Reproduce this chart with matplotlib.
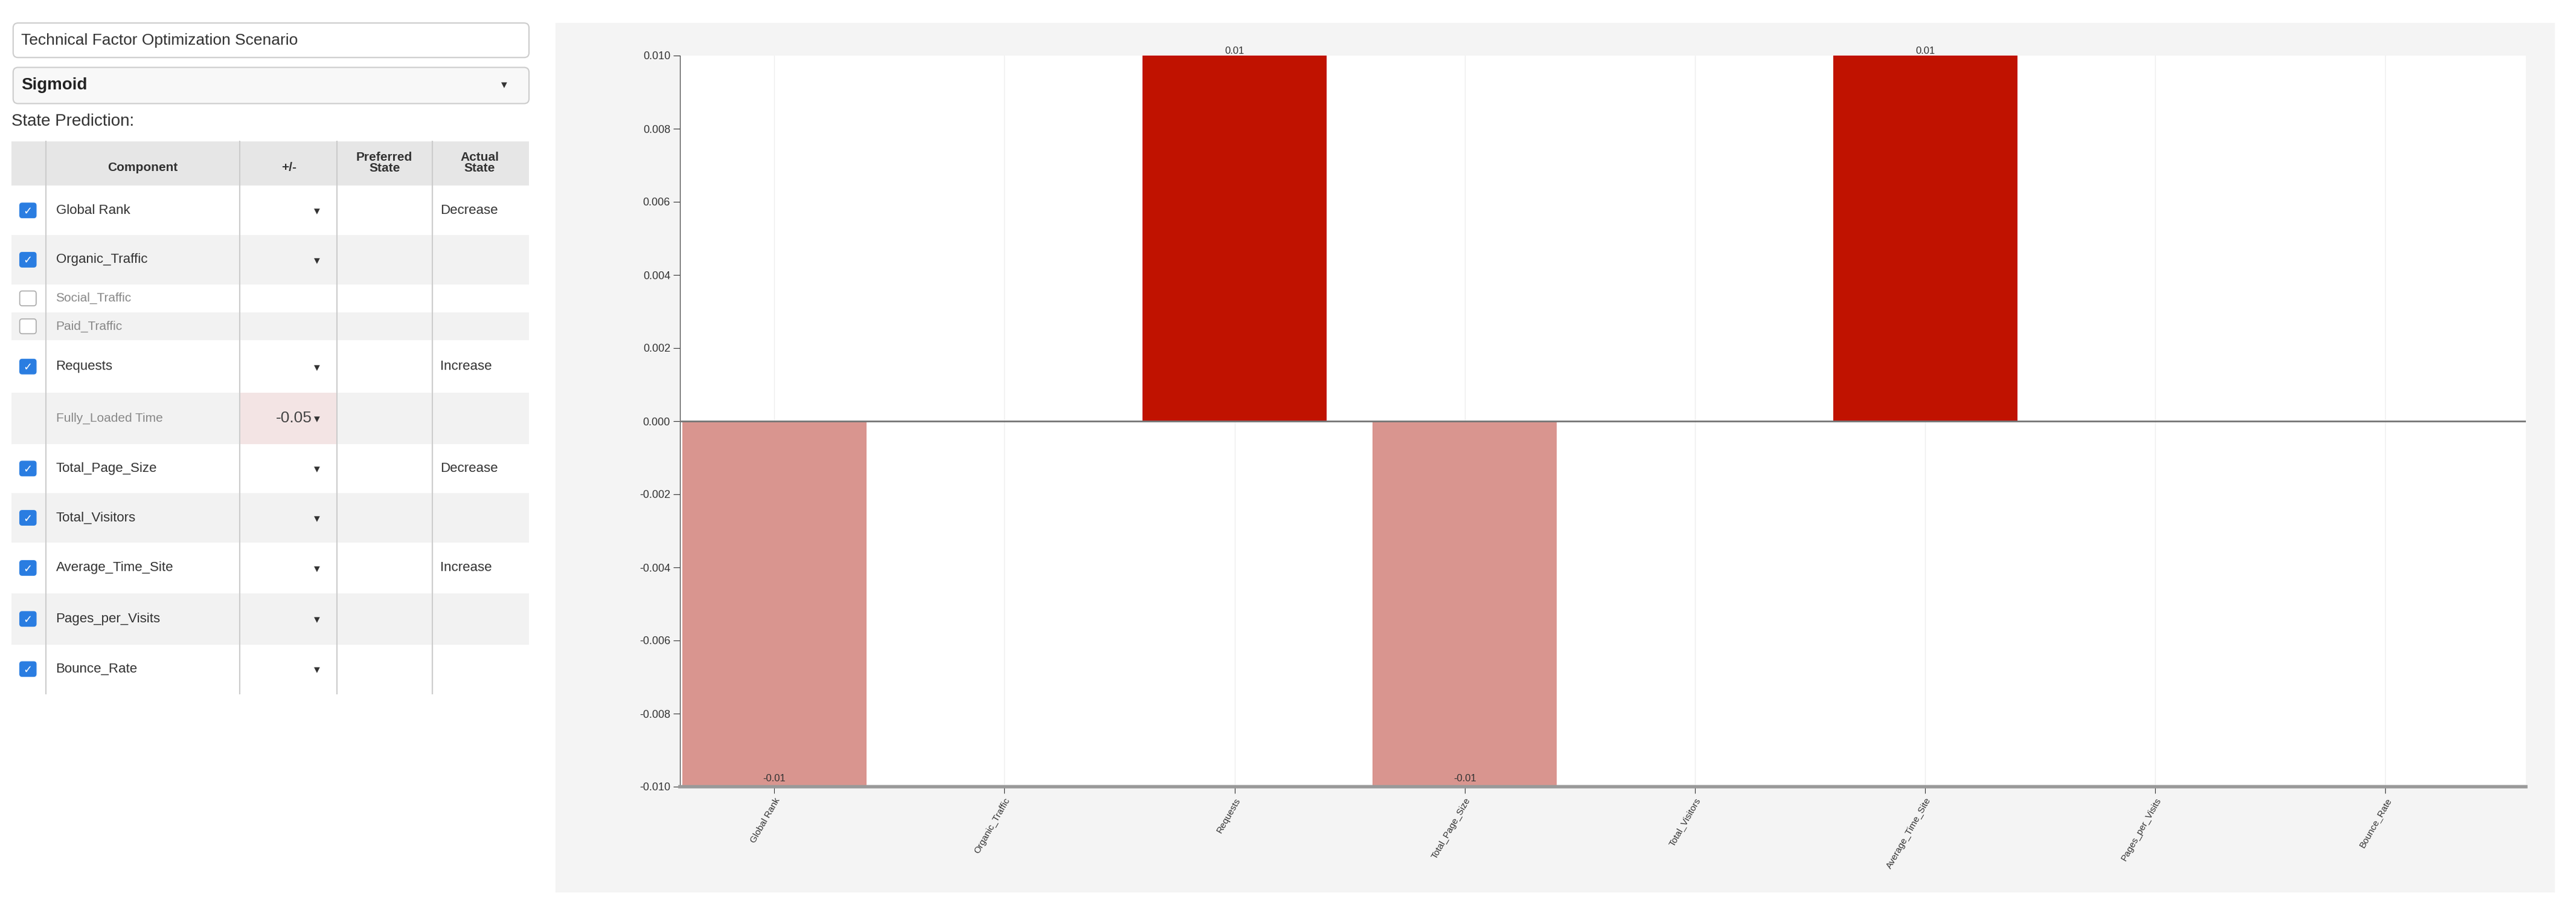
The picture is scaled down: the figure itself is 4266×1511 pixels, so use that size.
import matplotlib
matplotlib.use("Agg")
import matplotlib.pyplot as plt
from matplotlib.patches import Rectangle, FancyBboxPatch

plt.rcParams['font.family'] = ['Liberation Sans', 'DejaVu Sans']

categories = ["Global Rank", "Organic_Traffic", "Requests", "Total_Page_Size",
              "Total_Visitors", "Average_Time_Site", "Pages_per_Visits", "Bounce_Rate"]
values = [-0.01, 0.0, 0.01, -0.01, 0.0, 0.01, 0.0, 0.0]
yticks = [-0.010, -0.008, -0.006, -0.004, -0.002, 0.000, 0.002, 0.004, 0.006, 0.008, 0.010]

components = ["Global Rank", "Organic_Traffic", "Social_Traffic", "Paid_Traffic", "Requests",
              "Fully_Loaded Time", "Total_Page_Size", "Total_Visitors", "Average_Time_Site",
              "Pages_per_Visits", "Bounce_Rate"]
checked = [True, True, False, False, True, None, True, True, True, True, True]
plusminus = ["", "", None, None, "", "-0.05", "", "", "", "", ""]
actual_state = ["Decrease", "", "", "", "Increase", "", "Decrease", "", "Increase", "", ""]

W, H = 4266, 1511
fig = plt.figure(figsize=(W/100, H/100), dpi=100)
fig.patch.set_facecolor("white")

S = 4266/1568
ov = fig.add_axes([0, 0, 1, 1], zorder=0)
ov.set_xlim(0, W/S); ov.set_ylim(H/S, 0); ov.axis("off")

# chart panel background
ov.add_patch(Rectangle((338, 14), 1217, 529, facecolor="#f4f4f4", edgecolor="none"))

# left widgets
ov.add_patch(FancyBboxPatch((8, 14), 314, 21, boxstyle="round,pad=0,rounding_size=3",
                            facecolor="white", edgecolor="#cccccc", lw=1.5))
ov.text(13, 24.5, "Technical Factor Optimization Scenario", fontsize=19, va="center", color="#333")
ov.add_patch(FancyBboxPatch((8, 41), 314, 22, boxstyle="round,pad=0,rounding_size=3",
                            facecolor="#f8f8f8", edgecolor="#cccccc", lw=1.5))
ov.text(13, 52, "Sigmoid", fontsize=20, va="center", color="#222", weight="bold")
ov.text(307, 52, "▾", fontsize=14, va="center", ha="center", color="#333")
ov.text(7, 74, "State Prediction:", fontsize=20, va="center", color="#333")

cols = [7, 28, 146, 205, 263, 322]
ov.add_patch(Rectangle((7, 86), 315, 27, facecolor="#e6e6e6", edgecolor="none"))
ov.text(87, 102, "Component", fontsize=15, weight="bold", ha="center", va="center", color="#333")
ov.text(176, 102, "+/-", fontsize=15, weight="bold", ha="center", va="center", color="#333")
ov.text(234, 99, "Preferred\nState", fontsize=15, weight="bold", ha="center", va="center", color="#333", linespacing=0.95)
ov.text(292, 99, "Actual\nState", fontsize=15, weight="bold", ha="center", va="center", color="#333", linespacing=0.95)

rows = [(113, 143), (143, 173), (173, 190), (190, 207), (207, 239), (239, 270),
        (270, 300), (300, 330), (330, 361), (361, 392), (392, 422)]
for i, (y0, y1) in enumerate(rows):
    yc = (y0 + y1) / 2
    ov.add_patch(Rectangle((7, y0), 315, y1 - y0,
                           facecolor="#f2f2f2" if i % 2 == 1 else "white", edgecolor="none"))
    if components[i] == "Fully_Loaded Time":
        ov.add_patch(Rectangle((146, y0), 59, y1 - y0, facecolor="#f3e4e4", edgecolor="none"))
    c = checked[i]
    if c is True:
        ov.add_patch(FancyBboxPatch((12, yc - 4.5), 10, 9, boxstyle="round,pad=0,rounding_size=1.5",
                                    facecolor="#2a7de1", edgecolor="#2a7de1"))
        ov.text(17, yc + 0.5, "✓", fontsize=13, color="white", ha="center", va="center",
                family=["DejaVu Sans"], weight="bold")
    elif c is False:
        ov.add_patch(FancyBboxPatch((12, yc - 4.5), 10, 9, boxstyle="round,pad=0,rounding_size=1.5",
                                    facecolor="white", edgecolor="#aaaaaa", lw=1.2))
    grey = c is not True
    ov.text(34, yc, components[i], fontsize=16 if not grey else 15, va="center",
            color="#888" if grey else "#333")
    pm = plusminus[i]
    if pm is not None:
        if pm:
            ov.text(190, yc, pm, fontsize=19, va="center", ha="right", color="#444")
        ov.text(193, yc + 1, "▾", fontsize=14, va="center", ha="center", color="#333")
    if actual_state[i]:
        ov.text(268, yc, actual_state[i], fontsize=16, va="center", color="#333")
for x in cols[1:5]:
    ov.plot([x, x], [86, 422], color="#cccccc", lw=1.5)

# bar chart
ax = fig.add_axes([1126/W, 1 - 1302/H, (4183 - 1126)/W, (1302 - 92)/H], zorder=1)
ax.set_facecolor("white")
xs = list(range(len(categories)))
colors = ["#c01200" if v > 0 else "#d9958f" for v in values]
bars = ax.bar(xs, values, width=0.8, color=colors, zorder=2)
for x, v in zip(xs, values):
    if v > 0:
        ax.text(x, v, f"{v:.2f}", ha="center", va="bottom", fontsize=12, color="#333")
    elif v < 0:
        ax.text(x, v + 0.0001, f"{v:.2f}", ha="center", va="bottom", fontsize=12, color="#333")
ax.axhline(0, color="#777777", lw=2, zorder=3)
ax.set_xlim(-0.41, 7.61)
ax.set_ylim(-0.010, 0.010)
ax.set_yticks(yticks)
ax.set_yticklabels([f"{t:.3f}" for t in yticks], fontsize=13, color="#333")
ax.set_xticks(xs)
ax.set_xticklabels(categories, rotation=60, ha="right", rotation_mode="anchor", fontsize=11, color="#333")
ax.grid(axis="x", color="#eeeeee", lw=1, zorder=0)
for s in ["top", "right"]:
    ax.spines[s].set_visible(False)
ax.spines["bottom"].set_color("#999999"); ax.spines["bottom"].set_linewidth(4)
ax.spines["left"].set_color("#333333")
ax.tick_params(axis="both", length=8, color="#333")

fig.savefig("out.png", dpi=100, facecolor="white")
